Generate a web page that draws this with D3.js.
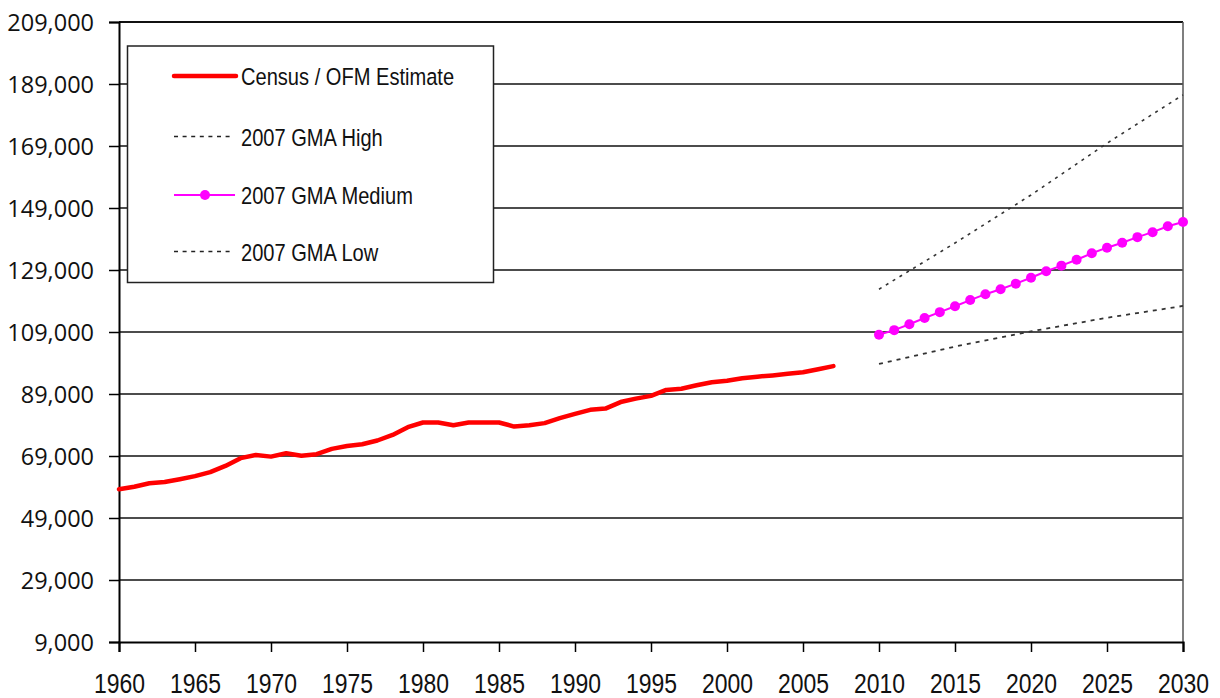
<!DOCTYPE html>
<html>
<head>
<meta charset="utf-8">
<script src="https://cdn.jsdelivr.net/npm/d3@7"></script>
<style>
  html, body { margin: 0; padding: 0; background: #fff; }
  svg { display: block; }
</style>
</head>
<body>
<svg id="chart" width="1220" height="698"></svg>
<script>
// ---------- DATA ----------
const censusYears = [1960,1961,1962,1963,1964,1965,1966,1967,1968,1969,1970,1971,1972,1973,1974,1975,1976,1977,1978,1979,1980,1981,1982,1983,1984,1985,1986,1987,1988,1989,1990,1991,1992,1993,1994,1995,1996,1997,1998,1999,2000,2001,2002,2003,2004,2005,2006,2007];
const censusValues = [58300,59100,60200,60600,61500,62500,63800,65800,68300,69300,68800,69900,69100,69600,71300,72200,72800,74000,75800,78300,79800,79800,78900,79800,79800,79800,78500,78900,79600,81200,82600,83900,84300,86400,87500,88400,90300,90700,91800,92800,93300,94100,94600,95000,95500,96000,97000,98000];

const mediumYears = [2010,2011,2012,2013,2014,2015,2016,2017,2018,2019,2020,2021,2022,2023,2024,2025,2026,2027,2028,2029,2030];
const mediumValues = [108100,109600,111500,113500,115400,117300,119300,121200,122800,124600,126500,128600,130400,132300,134400,136200,137800,139600,141200,143100,144500];

const highYears = [2010,2015,2020,2025,2030];
const highValues = [122800,137700,153200,169900,185500];

const lowYears = [2010,2015,2020,2025,2030];
const lowValues = [98700,104300,109200,113600,117400];

const yTicks = [9000,29000,49000,69000,89000,109000,129000,149000,169000,189000,209000];
const xTicks = [1960,1965,1970,1975,1980,1985,1990,1995,2000,2005,2010,2015,2020,2025,2030];

const legendLabels = ["Census / OFM Estimate","2007 GMA High","2007 GMA Medium","2007 GMA Low"];

// ---------- CHART ----------
(function () {
const svg = d3.select("#chart");
const pLeft = 119, pRight = 1183, pTop = 22, pBottom = 642;

const x = d3.scaleLinear().domain([1960, 2030]).range([pLeft, pRight]);
const y = d3.scaleLinear().domain([9000, 209000]).range([pBottom, pTop]);

// Narrow font detection
function measure(family, size, str) {
  const t = svg.append("text").attr("font-family", family).attr("font-size", size).text(str);
  const w = t.node().getComputedTextLength();
  t.remove();
  return w;
}
const wNarrow = measure("'Liberation Sans Narrow', 'Liberation Sans'", 28, "1960 1965 1970");
const wRegular = measure("'Liberation Sans'", 28, "1960 1965 1970");
const hasNarrow = wNarrow < wRegular * 0.9;
const narrowFamily = hasNarrow ? "'Liberation Sans Narrow', 'Liberation Sans', sans-serif" : "'Liberation Sans', Arial, sans-serif";
const narrowScale = hasNarrow ? 1 : 0.82;

// gridlines
svg.append("g")
  .selectAll("line")
  .data(yTicks.filter(d => d !== 9000))
  .join("line")
  .attr("x1", pLeft).attr("x2", pRight)
  .attr("y1", d => y(d)).attr("y2", d => y(d))
  .attr("stroke", "#111")
  .attr("stroke-width", d => d === 209000 ? 2 : 1.5);

// right border
svg.append("line")
  .attr("x1", pRight).attr("x2", pRight).attr("y1", pTop).attr("y2", pBottom)
  .attr("stroke", "#555").attr("stroke-width", 1.5);

// Y axis
const yAxis = d3.axisLeft(y).tickValues(yTicks).tickSize(10).tickFormat(d3.format(","));
const gy = svg.append("g").attr("transform", `translate(${pLeft},0)`).call(yAxis);
gy.select(".domain").attr("stroke", "#000").attr("stroke-width", 2);
gy.selectAll(".tick line").attr("stroke", "#000").attr("stroke-width", 1.5);
gy.selectAll(".tick text")
  .attr("font-family", "'Open Sans', 'Liberation Sans', sans-serif")
  .attr("font-size", 23.5)
  .attr("fill", "#111")
  .attr("x", -25)
  .attr("dy", "0.36em");

// X axis
const xAxis = d3.axisBottom(x).tickValues(xTicks).tickSize(10).tickFormat(d3.format("d"));
const gx = svg.append("g").attr("transform", `translate(0,${pBottom})`).call(xAxis);
gx.select(".domain").attr("stroke", "#000").attr("stroke-width", 2.2);
gx.selectAll(".tick line").attr("stroke", "#000").attr("stroke-width", 1.5);
gx.selectAll(".tick text")
  .attr("font-family", narrowFamily)
  .attr("font-size", 28)
  .attr("fill", "#111")
  .attr("y", 0).attr("dy", 0)
  .attr("transform", `translate(0,51) scale(${narrowScale},1)`);

// Lines
const line = d3.line().x(d => x(d[0])).y(d => y(d[1]));

const census = censusYears.map((yr, i) => [yr, censusValues[i]]);
const medium = mediumYears.map((yr, i) => [yr, mediumValues[i]]);
const high = highYears.map((yr, i) => [yr, highValues[i]]);
const low = lowYears.map((yr, i) => [yr, lowValues[i]]);

svg.append("path").datum(high).attr("d", line)
  .attr("fill", "none").attr("stroke", "#333").attr("stroke-width", 1.6)
  .attr("stroke-dasharray", "3,5");
svg.append("path").datum(low).attr("d", line)
  .attr("fill", "none").attr("stroke", "#333").attr("stroke-width", 1.8)
  .attr("stroke-dasharray", "4,5");

svg.append("path").datum(medium).attr("d", line)
  .attr("fill", "none").attr("stroke", "#ff00ff").attr("stroke-width", 2);
svg.append("g").selectAll("circle").data(medium).join("circle")
  .attr("cx", d => x(d[0])).attr("cy", d => y(d[1])).attr("r", 5)
  .attr("fill", "#ff00ff");

svg.append("path").datum(census).attr("d", line)
  .attr("fill", "none").attr("stroke", "#ff0000").attr("stroke-width", 4.5)
  .attr("stroke-linejoin", "round").attr("stroke-linecap", "round");

// Legend
const lg = svg.append("g");
lg.append("rect").attr("x", 127.5).attr("y", 46).attr("width", 366).attr("height", 236.5)
  .attr("fill", "#fff").attr("stroke", "#222").attr("stroke-width", 1.5);

const rowY = [76, 136.5, 195, 251.5];
lg.append("line").attr("x1", 174).attr("x2", 236).attr("y1", rowY[0]).attr("y2", rowY[0])
  .attr("stroke", "#ff0000").attr("stroke-width", 4.5).attr("stroke-linecap", "round");
lg.append("line").attr("x1", 174).attr("x2", 232).attr("y1", rowY[1]).attr("y2", rowY[1])
  .attr("stroke", "#222").attr("stroke-width", 1.3).attr("stroke-dasharray", "4,4.6");
lg.append("line").attr("x1", 174).attr("x2", 235).attr("y1", rowY[2]).attr("y2", rowY[2])
  .attr("stroke", "#ff00ff").attr("stroke-width", 2);
lg.append("circle").attr("cx", 205).attr("cy", rowY[2]).attr("r", 5).attr("fill", "#ff00ff");
lg.append("line").attr("x1", 174).attr("x2", 232).attr("y1", rowY[3]).attr("y2", rowY[3])
  .attr("stroke", "#222").attr("stroke-width", 1.3).attr("stroke-dasharray", "4,4.6");

lg.selectAll("text.leg").data(legendLabels).join("text")
  .attr("class", "leg")
  .attr("font-family", narrowFamily)
  .attr("font-size", 24.5)
  .attr("fill", "#111")
  .attr("transform", (d, i) => `translate(241,${rowY[i] + 9}) scale(${narrowScale},1)`)
  .text(d => d);
})();
</script>
</body>
</html>
